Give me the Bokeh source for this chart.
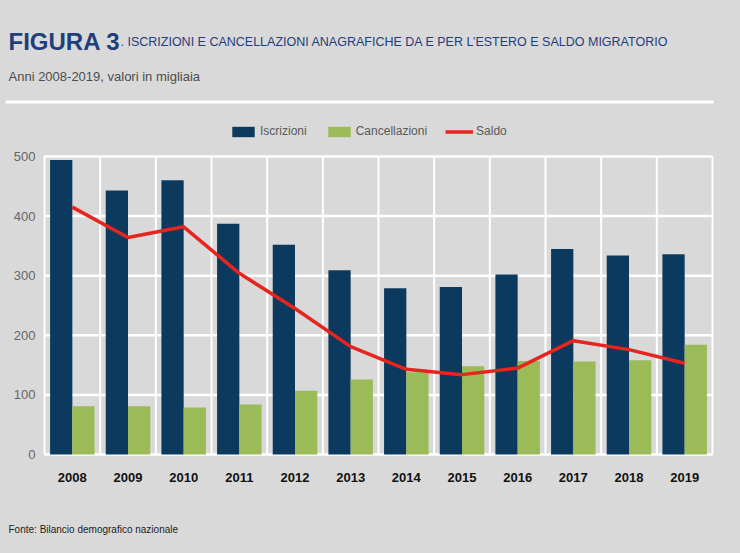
from bokeh.plotting import figure
from bokeh.models import (Range1d, Label, Legend, LegendItem,
                          BoxAnnotation, ColumnDataSource)
from bokeh.core.properties import value
from bokeh.embed import file_html
from bokeh.resources import INLINE

years = ["2008", "2009", "2010", "2011", "2012", "2013",
         "2014", "2015", "2016", "2017", "2018", "2019"]
iscrizioni = [494, 443, 460, 387, 352, 309, 279, 281, 302, 345, 334, 336]
cancellazioni = [81, 81, 79, 84, 107, 126, 138, 148, 157, 156, 158, 184]
saldo = [415, 364, 382, 304, 245, 181, 143, 134, 145, 191, 176, 153]
y_ticks = [0, 100, 200, 300, 400, 500]

BG = "#d9d9d9"
DARK = "#0b3a5e"
GREEN = "#9bbb59"
RED = "#e5251e"
TITLE_C = "#1f3e7c"
FONT = "Liberation Sans"

W, H = 724, 537
# plotting area inside the canvas (px): left, right, top (value 500), bottom (value 0)
PL, PR, PT, PB = 44, 712, 156, 454
n = len(years)
YMAX = y_ticks[-1]
ux = n / (PR - PL)            # data units per px, x
uy = YMAX / (PB - PT)         # data units per px, y
x_lo, x_hi = 0.5 - PL * ux, n + 0.5 + (W - PR) * ux
y_lo, y_hi = -(H - PB) * uy, YMAX + PT * uy

idx = list(range(1, n + 1))
src = ColumnDataSource(dict(
    x=idx,
    xi=[i - 0.2 for i in idx],
    xc=[i + 0.2 for i in idx],
    isc=iscrizioni, canc=cancellazioni, sal=saldo,
    lab=years, zero=[0] * n))

p = figure(width=W, height=H, output_backend="svg", toolbar_location=None,
           x_range=Range1d(x_lo, x_hi), y_range=Range1d(y_lo, y_hi),
           x_axis_location=None, y_axis_location=None,
           min_border=0)
p.background_fill_color = BG
p.border_fill_color = BG
p.outline_line_color = None
p.xgrid.visible = False
p.ygrid.visible = False

# grid: vertical lines at category boundaries, horizontal at ticks
bounds = [i + 0.5 for i in range(n + 1)]
p.segment(x0=bounds, x1=bounds, y0=[0] * len(bounds), y1=[YMAX] * len(bounds),
          line_color="white", line_width=2)
p.segment(x0=[0.5] * len(y_ticks), x1=[n + 0.5] * len(y_ticks),
          y0=y_ticks, y1=y_ticks, line_color="white", line_width=2.5)

r1 = p.vbar(x="xi", top="isc", width=0.4, source=src, fill_color=DARK, line_color=None)
r2 = p.vbar(x="xc", top="canc", width=0.4, source=src, fill_color=GREEN, line_color=None)
r3 = p.line(x="x", y="sal", source=src, line_color=RED, line_width=3.5)

# axis tick labels
p.text(x="x", y="zero", text="lab", source=src, y_offset=23,
       text_align="center", text_baseline="middle", text_font=value(FONT),
       text_font_style="bold", text_font_size="13px", text_color="#111111")
p.text(x=[0.5] * len(y_ticks), y=y_ticks, text=[str(t) for t in y_ticks],
       x_offset=-9, text_align="right", text_baseline="middle",
       text_font=value(FONT), text_font_size="13px", text_color="#666666")

legend = Legend(items=[LegendItem(label="Iscrizioni", renderers=[r1]),
                       LegendItem(label="Cancellazioni", renderers=[r2]),
                       LegendItem(label="Saldo", renderers=[r3])],
                orientation="horizontal", location=(229, H - 138),
                background_fill_alpha=0, border_line_color=None,
                padding=0, margin=0, spacing=18, glyph_width=28, glyph_height=13,
                label_text_font=FONT, label_text_font_size="12px",
                label_text_color="#595959", label_standoff=3)
p.add_layout(legend, "center")

t1 = Label(x=8, y=H - 41, x_units="screen", y_units="screen",
           text="FIGURA 3", text_font=FONT, text_font_style="bold",
           text_font_size="24px", text_color=TITLE_C, text_baseline="alphabetic")
t2 = Label(x=120, y=H - 41, x_units="screen", y_units="screen",
           text=". ISCRIZIONI E CANCELLAZIONI ANAGRAFICHE DA E PER L\u2019ESTERO E SALDO MIGRATORIO",
           text_font=FONT, text_font_size="12.5px", text_color=TITLE_C,
           text_baseline="alphabetic")
t3 = Label(x=8, y=H - 76, x_units="screen", y_units="screen",
           text="Anni 2008-2019, valori in migliaia", text_font=FONT,
           text_font_size="13px", text_color="#4d4d4d", text_baseline="alphabetic")
t4 = Label(x=8, y=H - 529, x_units="screen", y_units="screen",
           text="Fonte: Bilancio demografico nazionale", text_font=FONT,
           text_font_size="10px", text_color="#222222", text_baseline="alphabetic")
for t in (t1, t2, t3, t4):
    p.add_layout(t)

sep = BoxAnnotation(left=5, right=713, top=H - 100, bottom=H - 103,
                    left_units="screen", right_units="screen",
                    top_units="screen", bottom_units="screen",
                    fill_color="white", fill_alpha=1, line_color=None)
p.add_layout(sep)

html = file_html(p, INLINE)
html = html.replace("<head>", "<head><style>body{background:#d9d9d9;}</style>", 1)
open("out.html", "w").write(html)
